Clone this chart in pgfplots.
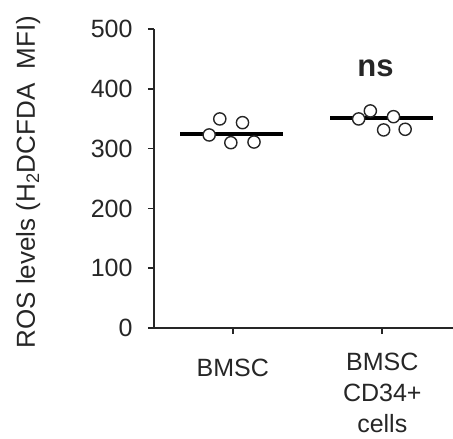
\documentclass[border=0pt]{standalone}
\usepackage{pgfplots}
\pgfplotsset{compat=1.18}
\usepackage{fontspec}
\setmainfont{Liberation Sans}
\definecolor{ink}{gray}{0.15}
\begin{document}
\begin{tikzpicture}
\useasboundingbox (-154bp,-111bp) rectangle (299bp,328bp);
\begin{axis}[
  at={(0,0)}, anchor=south west,
  scale only axis, width=299bp, height=299bp,
  xmin=0.473, xmax=2.473, ymin=0, ymax=500,
  axis x line=bottom, axis y line=left,
  axis line style={-, line width=1.6bp, ink},
  xtick={1,2},
  xticklabels={{\rule{0pt}{23bp}BMSC},{BMSC\\CD34+\\cells}},
  ytick={0,100,200,300,400,500},
  tick align=outside, major tick length=6bp,
  tick style={line width=1.6bp, ink},
  /pgf/number format/assume math mode=true,
  ticklabel style={font=\fontsize{25bp}{31bp}\selectfont, text=ink},
  yticklabel style={xshift=-12bp},
  xticklabel style={align=center, anchor=north, yshift=-16bp},
  ylabel={ROS levels (H\textsubscript{2}DCFDA\ \ MFI)},
  ylabel style={at={(axis description cs:-0.421,0.488)}, anchor=center, font=\fontsize{26bp}{31bp}\selectfont, text=ink},
  clip=false,
]
\addplot[only marks, mark=*, mark size=6.1bp, mark options={line width=1.4bp, draw=ink, fill=white}]
  coordinates {(0.842,322.8) (0.913,349.6) (0.987,309.9) (1.065,343.4) (1.142,311.0)};
\addplot[only marks, mark=*, mark size=6.1bp, mark options={line width=1.4bp, draw=ink, fill=white}]
  coordinates {(1.842,349.6) (1.920,363.0) (2.009,331.2) (2.075,353.4) (2.153,332.3)};
\addplot[black, line width=3.8bp] coordinates {(0.647,324) (1.338,324)};
\addplot[black, line width=3.8bp] coordinates {(1.653,350.7) (2.337,350.7)};
\node[font=\bfseries\fontsize{31bp}{36bp}\selectfont, text=ink] at (axis cs:1.955,435) {ns};
\end{axis}
\end{tikzpicture}
\end{document}
